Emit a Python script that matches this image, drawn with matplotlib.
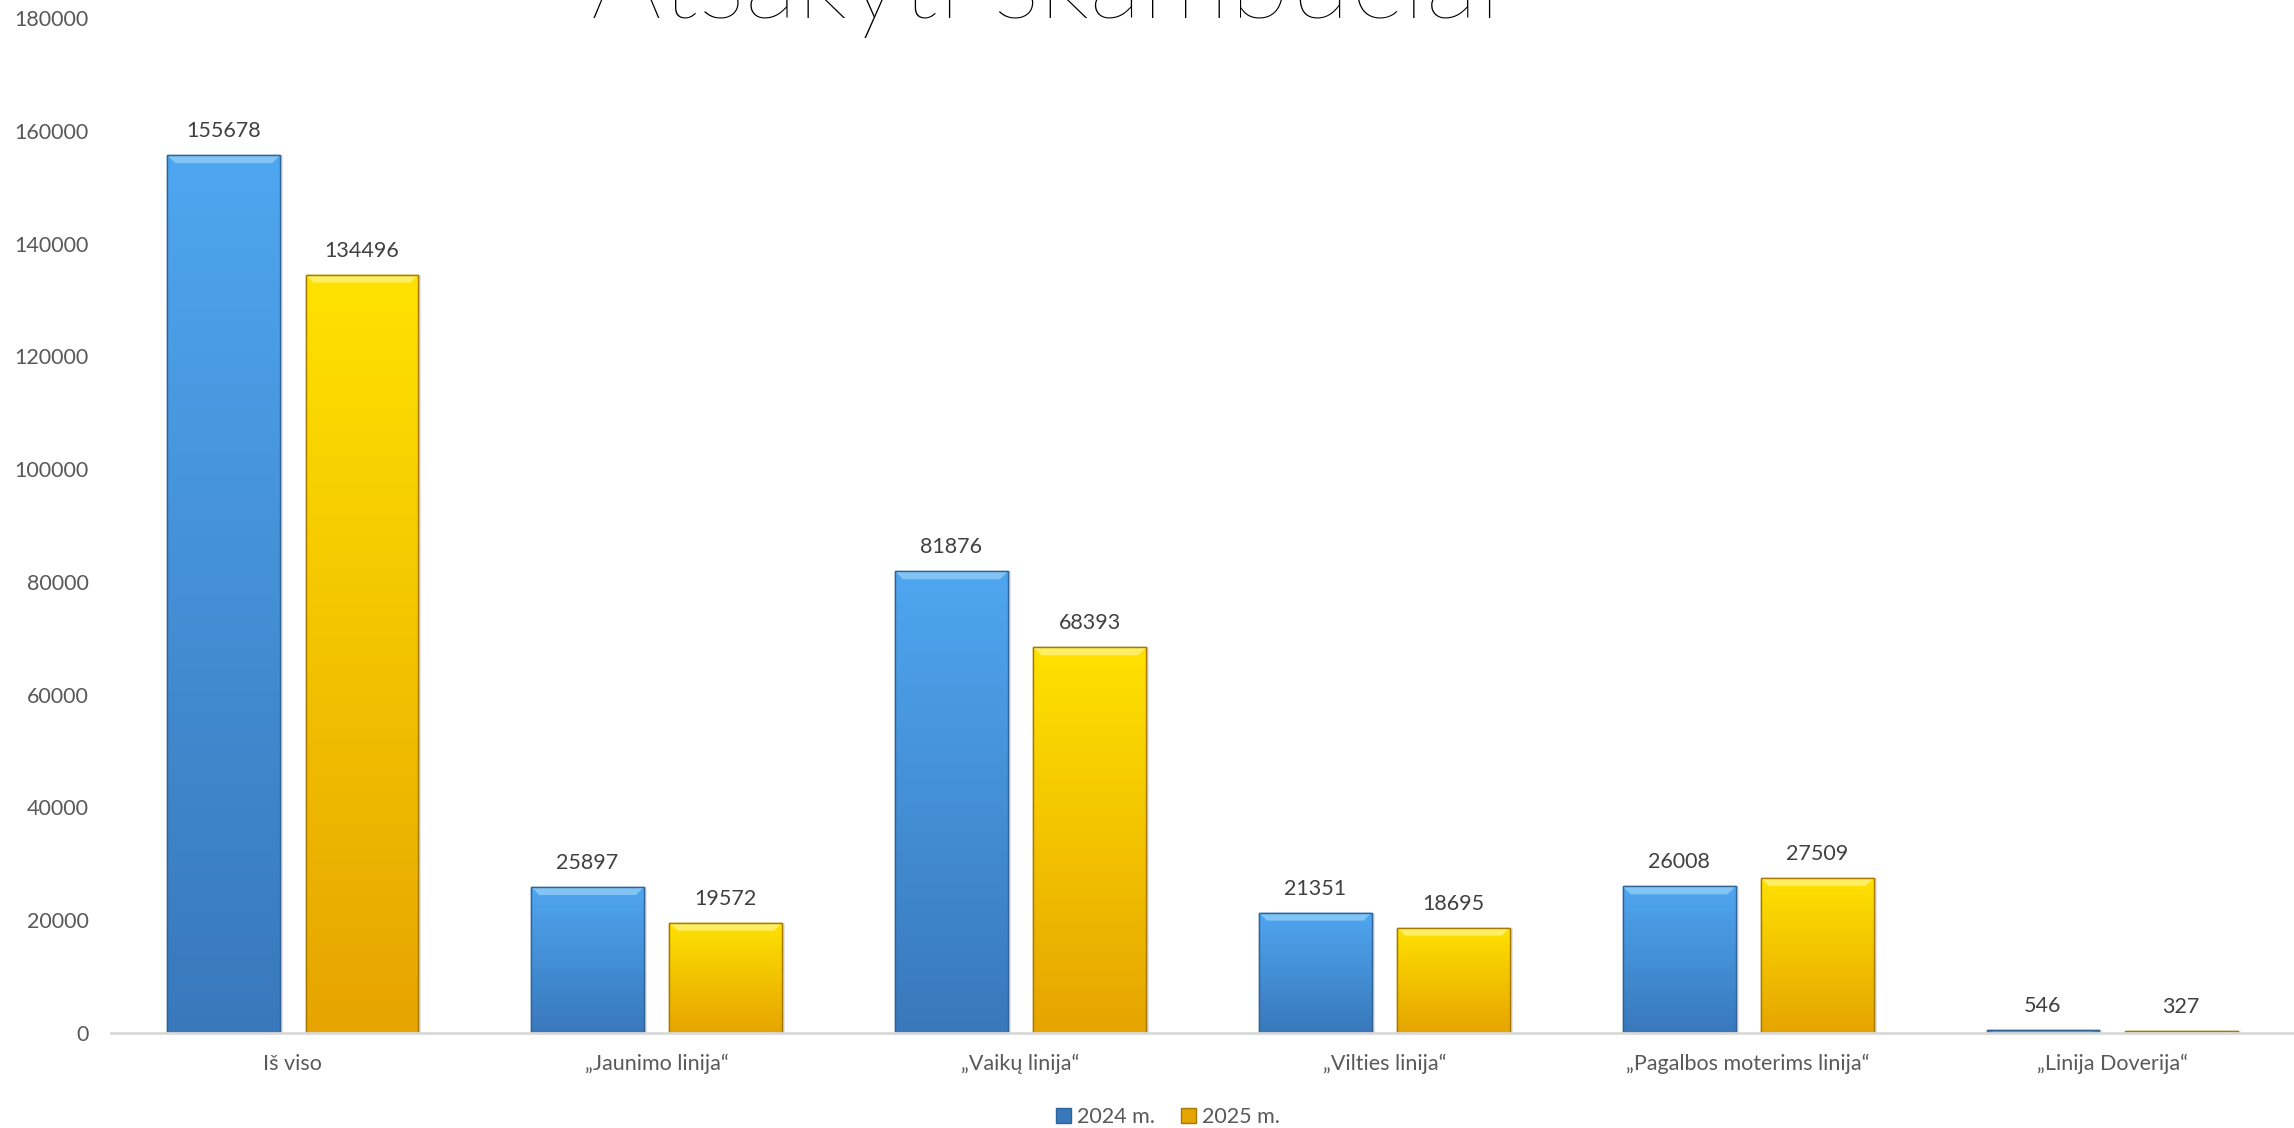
import numpy as np
import matplotlib
matplotlib.use('Agg')
import matplotlib.pyplot as plt
from matplotlib.patches import Polygon, Rectangle
from matplotlib.colors import LinearSegmentedColormap

categories = ['Iš viso', '„Jaunimo linija“', '„Vaikų linija“', '„Vilties linija“',
              '„Pagalbos moterims linija“', '„Linija Doverija“']
calls_2024 = [155678, 25897, 81876, 21351, 26008, 546]
calls_2025 = [134496, 19572, 68393, 18695, 27509, 327]
series_names = ['2024 m.', '2025 m.']
title = 'Atsakyti skambučiai'

plt.rcParams['font.family'] = ['Lato', 'DejaVu Sans']
GREY = '#595959'

# colours: top of bar, bottom of bar, edge, bevel highlight
blue = ('#4FA6F0', '#3978BB', '#2F6499', '#8CCBF7')
gold = ('#FFE200', '#E6A400', '#A67A00', '#FFF176')

fig = plt.figure(figsize=(22.94, 11.28), dpi=100)
ax = fig.add_axes([111 / 2294, 95 / 1128, 1 - 111 / 2294, 1015 / 1128])

x = np.arange(len(categories))
w, off = 0.31, 0.19
ax.set_xlim(-0.5, len(categories) - 0.5)
ax.set_ylim(0, 180000)

ppu = ax.transData.transform((0, 1))[1] - ax.transData.transform((0, 0))[1]
bevel = 8 / ppu          # 8 px in data units
ppx = 1 / (ax.transData.transform((1, 0))[0] - ax.transData.transform((0, 0))[0])


def fancy_bars(xs, vals, cols, label):
    bars = ax.bar(xs, vals, w, color=cols[1], edgecolor=cols[2], lw=1.0,
                  label=label, zorder=3)
    cmap = LinearSegmentedColormap.from_list('g', [cols[1], cols[0]])
    for b in bars:
        x0, y0, bw, bh = b.get_x(), b.get_y(), b.get_width(), b.get_height()
        # soft shadow
        ax.add_patch(Rectangle((x0 + 3 * ppx, y0), bw, bh, color='#000000',
                               alpha=0.10, lw=0, zorder=2))
        grad = np.linspace(0, 1, 256).reshape(-1, 1)
        im = ax.imshow(grad, cmap=cmap, origin='lower', aspect='auto',
                       extent=(x0, x0 + bw, y0, y0 + bh), zorder=3.1)
        im.set_clip_path(b)
        bv = min(bevel, bh * 0.5)
        inset = min(8 * ppx, bw * 0.1)
        ax.add_patch(Polygon([(x0, y0 + bh), (x0 + bw, y0 + bh),
                              (x0 + bw - inset, y0 + bh - bv),
                              (x0 + inset, y0 + bh - bv)],
                             closed=True, color=cols[3], lw=0, alpha=0.85,
                             zorder=3.2))
        ax.add_patch(Rectangle((x0, y0), bw, bh, fill=False, ec=cols[2],
                               lw=1.0, zorder=3.3))
        ax.annotate(f'{int(bh)}', (x0 + bw / 2, y0 + bh), xytext=(0, 13),
                    textcoords='offset points', ha='center', va='baseline',
                    fontsize=15.5, color='#404040')
    ax.set_xlim(-0.5, len(categories) - 0.5)
    ax.set_ylim(0, 180000)
    return bars


fancy_bars(x - off, calls_2024, blue, series_names[0])
fancy_bars(x + off, calls_2025, gold, series_names[1])

ax.set_xticks(x)
ax.set_xticklabels(categories)
ax.set_yticks(np.arange(0, 180001, 20000))
ax.tick_params(axis='both', length=0, labelsize=15.5, labelcolor=GREY)
ax.tick_params(axis='x', pad=15)
ax.tick_params(axis='y', pad=16)
for s in ['top', 'right', 'left']:
    ax.spines[s].set_visible(False)
ax.spines['bottom'].set_color('#D9D9D9')
ax.spines['bottom'].set_linewidth(2)
ax.spines['bottom'].set_zorder(4)

fig.text(1046 / 2294, 1 - 18 / 1128, title, ha='center', va='baseline',
         fontsize=80, fontweight='light', color='#000000')

handles = [Rectangle((0, 0), 1, 1, fc=c[1], ec=c[2]) for c in (blue, gold)]
fig.legend(handles, series_names, loc='center', bbox_to_anchor=(1168 / 2294, 11 / 1128),
           ncol=2, frameon=False, fontsize=15.5, labelcolor=GREY,
           handlelength=0.7, handleheight=0.7, handletextpad=0.3, columnspacing=1.2)

fig.savefig('out.png', dpi=100)
